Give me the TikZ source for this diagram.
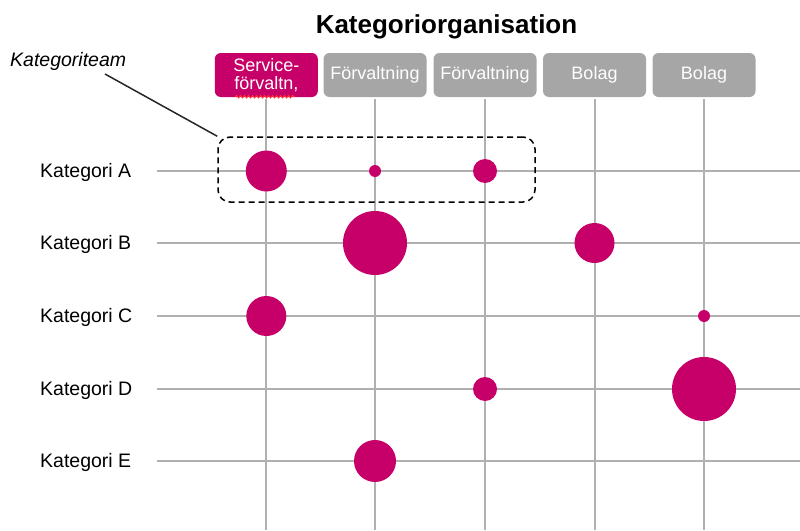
\documentclass[tikz,border=0pt]{standalone}
\usepackage{fontspec}
\setmainfont{Liberation Sans}
\usetikzlibrary{decorations.pathmorphing}
\definecolor{kpink}{RGB}{198,0,104}
\definecolor{kgray}{RGB}{166,166,166}
\definecolor{kline}{RGB}{176,176,176}
\begin{document}
\begin{tikzpicture}[x=1pt, y=-1pt]

    \newcommand{\bubble}[3]{\node[bub, minimum size=#3pt] (b#1#2) at (h#2 |- l#1) {}}

    \tikzstyle{head}=[rectangle, rounded corners=6pt, fill=kgray, text=white, inner sep=0pt, minimum width=103pt, minimum height=44pt, align=center, font=\fontsize{18}{18.5}\selectfont]
    \tikzstyle{grid}=[draw=kline, line width=2pt]
    \tikzstyle{bub}=[circle, fill=kpink, inner sep=0pt]
    \tikzstyle{row}=[anchor=base west, inner sep=0pt, font=\fontsize{19.5}{22}\selectfont]

    \useasboundingbox (0,0) rectangle (800,530);
    \coordinate (bot) at (0,530);
    \coordinate (rgt) at (800,0);

    \node[anchor=base, font=\bfseries\fontsize{26}{30}\selectfont] (title) at (446.5,33) {Kategoriorganisation};

    \node[head, fill=kpink] (h1) at (266.3,75) {Service-\\förvaltn,};
    \foreach \i/\x/\t in {2/375/Förvaltning, 3/485/Förvaltning, 4/594.5/Bolag, 5/704/Bolag} {
        \node[head] (h\i) at (\x,75) {\t};
    }
    \draw[red!80!white, line width=0.9pt, decorate, decoration={snake, amplitude=1.3pt, segment length=4pt}]
        ([xshift=-31pt, yshift=0.5pt]h1.south) -- ([xshift=29pt, yshift=0.5pt]h1.south);

    \foreach \r/\y in {A/171, B/243, C/316, D/389, E/461} {
        \coordinate (l\r) at (157,\y);
        \node[row] (k\r) at (40,\y+6) {Kategori \r};
        \draw[grid] (l\r) -- (l\r -| rgt);
    }
    \foreach \i in {1,...,5} {
        \draw[grid, shorten <=2pt] (h\i.south) -- (h\i |- bot);
    }

    \foreach \r/\c/\d in {A/1/41, A/2/12, A/3/24, B/2/64, B/4/40, C/1/40, C/5/12, D/3/24, D/5/64, E/2/42} {
        \bubble{\r}{\c}{\d};
    }

    \node[draw, dashed, dash pattern=on 6pt off 4pt, line width=1.5pt, rounded corners=12pt, minimum width=317pt, minimum height=65pt, inner sep=0pt] (grp) at (376.5,169.5) {};
    \node[anchor=base west, inner sep=0pt, font=\itshape\fontsize{19.5}{22}\selectfont] (team) at (10,66) {Kategoriteam};
    \coordinate (tip) at (105,74);
    \draw[line width=1.5pt, black!85] (tip) -- (grp.north west);

\end{tikzpicture}
\end{document}
